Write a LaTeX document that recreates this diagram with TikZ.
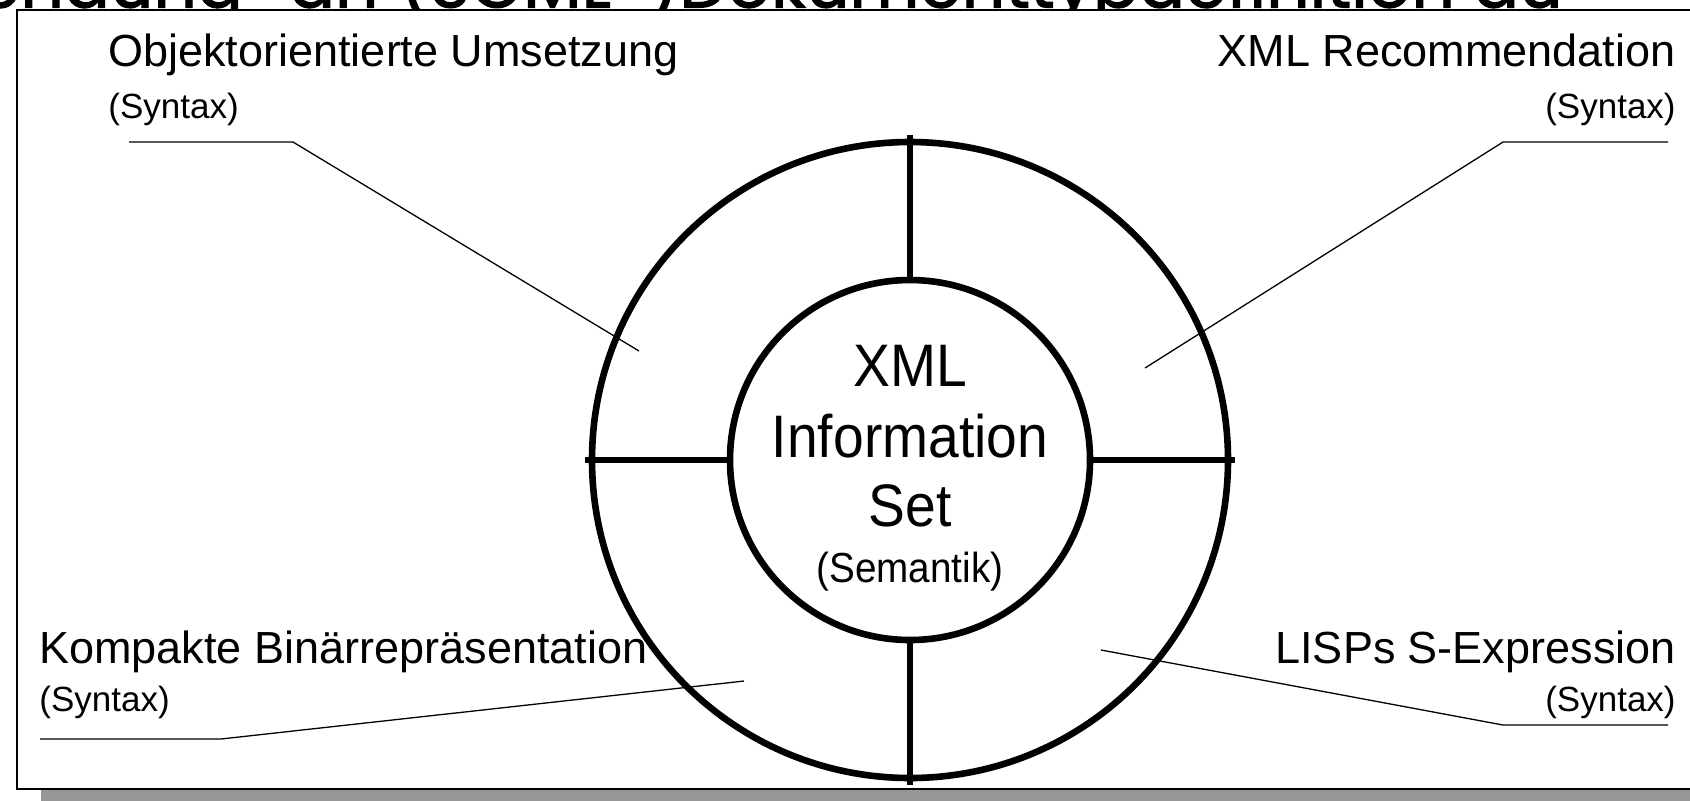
\documentclass[tikz,border=0pt]{standalone}
\usepackage{fontspec}
\setmainfont{Liberation Sans}
\newfontfamily\titlefont[FakeBold=1.6]{Poppins}
\newfontfamily\ringfont[FakeStretch=0.92]{Liberation Sans}
\definecolor{shadowgray}{RGB}{150,150,150}

\tikzset{
  ring/.style={circle, draw=black, line width=3.3pt, fill=white, inner sep=0pt},
  spoke/.style={draw=black, line width=2.8pt, shorten >=-2pt},
  leader/.style={draw=black, line width=0.65pt},
  lbl/.style={inner sep=0pt, font=\fontsize{22.5}{27}\selectfont},
  syn/.style={inner sep=0pt, font=\fontsize{17.5}{21}\selectfont},
  core/.style={inner sep=0pt, anchor=base, font=\ringfont\fontsize{30}{36}\selectfont},
  coresub/.style={inner sep=0pt, anchor=base, font=\ringfont\fontsize{21}{25}\selectfont},
  headtext/.style={anchor=base west, inner sep=0pt, font=\titlefont\fontsize{34}{40}\selectfont},
  panel/.style={draw=black, line width=1.35pt, fill=white},
}

\begin{document}
\begin{tikzpicture}[x=0.5pt, y=-0.5pt]
\useasboundingbox (0,0) rectangle (1690,800);
\clip (0,0) rectangle (1690,800);

% slide heading, mostly hidden behind the panel
\node[headtext] (headA) at (20,7.5) {\llap{e}ndung \hspace{14pt}an};
\node[headtext] (headB) at (399,7.5) {(SGML-)Dokumenttypdefinition au};

% panel with drop shadow
\fill[shadowgray] (41,30) rectangle (1710,810);
\draw[panel] (17,10) rectangle (1710,789);

% rings
\node[ring, minimum size=318pt] (outer) at (910,460) {};
\node[ring, minimum size=180pt] (inner) at (910,460) {};

% spokes between the rings
\draw[spoke] (inner.north) -- (outer.north);
\draw[spoke] (inner.south) -- (outer.south);
\draw[spoke] (inner.west) -- (outer.west);
\draw[spoke] (inner.east) -- (outer.east);

% core text
\node[core] (xml) at (910,386) {XML};
\node[core] (infoword) at (910,457) {Information};
\node[core] (setword) at (910,526) {Set};
\node[coresub] (sem) at (910,582) {(Semantik)};

% outer labels
\node[lbl, anchor=base west] (oo) at (108,66) {Objektorientierte Umsetzung};
\node[syn, anchor=base west] (oosyn) at (108,118) {(Syntax)};
\node[lbl, anchor=base east] (rec) at (1676,66) {XML Recommendation};
\node[syn, anchor=base east] (recsyn) at (1676,118) {(Syntax)};
\node[lbl, anchor=base west] (bin) at (39,663) {Kompakte Binärrepräsentation};
\node[syn, anchor=base west] (binsyn) at (39,711) {(Syntax)};
\node[lbl, anchor=base east] (lisp) at (1676,663) {LISPs S-Expression};
\node[syn, anchor=base east] (lispsyn) at (1676,711) {(Syntax)};

% leader lines
\coordinate (ooA) at (129,142);  \coordinate (ooB) at (293,142);  \coordinate (ooC) at (639,351);
\coordinate (recA) at (1668,142); \coordinate (recB) at (1503,142); \coordinate (recC) at (1145,368);
\coordinate (binA) at (40,739);  \coordinate (binB) at (221,739); \coordinate (binC) at (744,681);
\coordinate (lispA) at (1668,725); \coordinate (lispB) at (1503,725); \coordinate (lispC) at (1101,650);

\draw[leader] (ooA) -- (ooB) -- (ooC);
\draw[leader] (recA) -- (recB) -- (recC);
\draw[leader] (binA) -- (binB) -- (binC);
\draw[leader] (lispA) -- (lispB) -- (lispC);
\end{tikzpicture}
\end{document}
